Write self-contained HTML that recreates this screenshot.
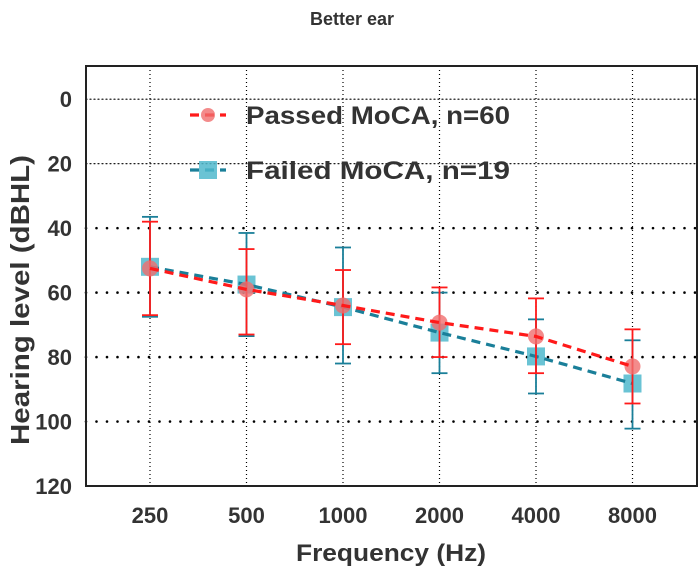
<!DOCTYPE html>
<html><head><meta charset="utf-8"><style>
body{margin:0;background:#fff;}
svg{display:block;font-family:"Liberation Sans",Arial,sans-serif;}
</style></head><body>
<svg id="chart" width="700" height="573" viewBox="0 0 700 573"></svg>
<script>
const categories=["250","500","1000","2000","4000","8000"];
const passedMean=[52.5,59,64,69.3,73.6,82.9];
const passedLow=[38,46.5,53,58.4,61.8,71.4];
const passedHigh=[67,73,76,80,85,94.4];
const failedMean=[52,57.5,64.5,72.4,79.8,88.2];
const failedLow=[36.5,41.5,46,60,68.3,74.8];
const failedHigh=[67.5,73.5,82,85,91.3,102.2];
const yTicks=[0,20,40,60,80,100,120];
const NS="http://www.w3.org/2000/svg";
const svg=document.getElementById('chart');
const L=86,R=697,T=66,B=486;
const yMin=-10.3,yMax=120;
function ys(v){return T+(v-yMin)/(yMax-yMin)*(B-T);}
function xs(i){return 150+i*96.5;}
function mk(tag,attrs,parent){const e=document.createElementNS(NS,tag);for(const k in attrs)e.setAttribute(k,attrs[k]);(parent||svg).appendChild(e);return e;}
yTicks.forEach(v=>{
  const t=mk('text',{x:72,y:ys(v)+8,'text-anchor':'end','font-size':22,'font-weight':'bold',fill:'#333'});
  t.textContent=v;
  
  
  if(v>=120)return;
  const heavy=v>=40;
  const g=mk('line',{x1:L,x2:R,y1:ys(v),y2:ys(v),stroke:'#000','stroke-width':heavy?2.6:1.2,'stroke-dasharray':heavy?'0 10.5':'1 3','stroke-linecap':'round'});
  
  
});
categories.forEach((c,i)=>{
  const g=mk('line',{x1:xs(i),x2:xs(i),y1:T,y2:B,stroke:'#000','stroke-width':1.2,'stroke-dasharray':'1 3'});
  
  
  const t=mk('text',{x:xs(i),y:523,'text-anchor':'middle','font-size':22,'font-weight':'bold',fill:'#333'});
  t.textContent=c;
  
  
});
const frame=mk('rect',{x:L,y:T,width:R-L,height:B-T,fill:'none',stroke:'#222','stroke-width':2});


function series(mean,lo,hi,color,lineColor,markerColor,square,name){
  mean.forEach((m,i)=>{
    const x=xs(i);
    const e=mk('line',{x1:x,x2:x,y1:ys(lo[i]),y2:ys(hi[i]),stroke:color,'stroke-width':1.8});
    
    
    [lo[i],hi[i]].forEach(v=>{const c=mk('line',{x1:x-8,x2:x+8,y1:ys(v),y2:ys(v),stroke:color,'stroke-width':1.8});
      
      });
  });
  mean.forEach((m,i)=>{
    let p;
    if(square)p=mk('rect',{x:xs(i)-9,y:ys(m)-9,width:18,height:18,fill:markerColor});
    else p=mk('circle',{cx:xs(i),cy:ys(m),r:8,fill:markerColor});
    
    
  });
  const pts=mean.map((m,i)=>xs(i)+','+ys(m)).join(' ');
  const pl=mk('polyline',{points:pts,fill:'none',stroke:lineColor,'stroke-width':3.2,'stroke-dasharray':'9 6'});
  
  
}
series(failedMean,failedLow,failedHigh,'#1a7f99','#1a7f99','rgba(80,185,205,0.85)',true,'failed');
series(passedMean,passedLow,passedHigh,'#ff1a1a','#ff1a1a','rgba(240,110,110,0.8)',false,'passed');
function legend(y,color,markerColor,square,label,name){
  const g=mk('g',{});
  
  
  mk('line',{x1:190,x2:226,y1:y,y2:y,stroke:color,'stroke-width':3.2,'stroke-dasharray':'9 6'},g);
  if(square)mk('rect',{x:199,y:y-9,width:18,height:18,fill:markerColor},g);
  else mk('circle',{cx:208,cy:y,r:7,fill:markerColor},g);
  const t=mk('text',{x:246,y:y+9,'font-size':25,'font-weight':'bold',fill:'#333',textLength:264,lengthAdjust:'spacingAndGlyphs'},g);
  t.textContent=label;
}
legend(115,'#ff1a1a','rgba(240,110,110,0.8)',false,'Passed MoCA, n=60','passed');
legend(170,'#1a7f99','rgba(80,185,205,0.85)',true,'Failed MoCA, n=19','failed');
const title=mk('text',{x:352,y:25,'text-anchor':'middle','font-size':18,'font-weight':'bold',fill:'#333'});
title.textContent='Better ear';


const xl=mk('text',{x:391,y:561,'text-anchor':'middle','font-size':24,'font-weight':'bold',fill:'#333',textLength:190,lengthAdjust:'spacingAndGlyphs'});
xl.textContent='Frequency (Hz)';


const yl=mk('text',{x:0,y:0,'text-anchor':'middle','font-size':26,'font-weight':'bold',fill:'#333',transform:'translate(29,300) rotate(-90)',textLength:290,lengthAdjust:'spacingAndGlyphs'});
yl.textContent='Hearing level (dBHL)';


</script>
</body></html>
